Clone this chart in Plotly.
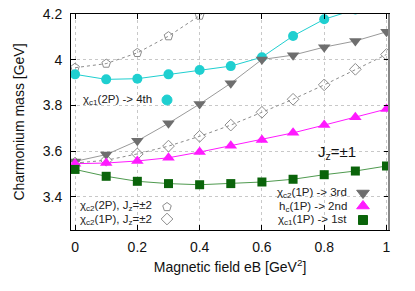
import plotly.graph_objects as go

eB = [0.0, 0.1, 0.2, 0.3, 0.4, 0.5, 0.6, 0.7, 0.8, 0.9, 1.0]
chi_c1_2P = [3.936, 3.914, 3.917, 3.936, 3.955, 3.972, 4.011, 4.104, 4.177, 4.22, 4.27]
chi_c2_1P = [3.555, 3.585, 3.645, 3.722, 3.806, 3.897, 4.001, 4.020, 4.055, 4.082, 4.122]
h_c_1P = [3.545, 3.548, 3.557, 3.571, 3.596, 3.624, 3.649, 3.680, 3.714, 3.748, 3.784]
chi_c1_1P = [3.520, 3.490, 3.468, 3.458, 3.453, 3.458, 3.465, 3.477, 3.497, 3.513, 3.535]
eB_2P_Jz2 = [0.0, 0.1, 0.2, 0.3, 0.4, 0.5]
chi_c2_2P_Jz2 = [3.965, 3.983, 4.030, 4.103, 4.193, 4.29]
chi_c2_1P_Jz2 = [3.548, 3.560, 3.588, 3.622, 3.665, 3.714, 3.770, 3.827, 3.890, 3.958, 4.023]

x_ticks = [0, 0.2, 0.4, 0.6, 0.8, 1]
x_tick_labels = ["0", "0.2", "0.4", "0.6", "0.8", "1"]
y_ticks = [3.4, 3.6, 3.8, 4.0, 4.2]
y_tick_labels = ["3.4", "3.6", "3.8", "4", "4.2"]

# page body has an 8px margin; size the figure to fit the window
OFF = 8
W, H = 415 - OFF, 291 - OFF
L, R, T, B = 71 - OFF, 26, 14 - OFF, 61
pw, ph = W - L - R, H - T - B

def px(x):
    return (x - OFF - L) / pw

def py(y):
    return 1 - (y - OFF - T) / ph

fig = go.Figure()

cyan = "#1fcfd0"
gray_fill = "#6e6e6e"
gray_line = "#9a9a9a"
open_gray = "#8c8c8c"
pink = "#ff1aff"
green = "#0a640a"
green_line = "#4f9a4f"

fig.add_trace(go.Scatter(x=eB_2P_Jz2, y=chi_c2_2P_Jz2, mode="lines+markers",
    line=dict(color=open_gray, width=1, dash="dot"),
    marker=dict(symbol="pentagon-open", size=9, color=open_gray, line=dict(width=1))))
fig.add_trace(go.Scatter(x=eB, y=chi_c2_1P_Jz2, mode="lines+markers",
    line=dict(color=open_gray, width=1, dash="dot"),
    marker=dict(symbol="diamond-open", size=9, color=open_gray, line=dict(width=1))))
fig.add_trace(go.Scatter(x=eB, y=chi_c1_2P, mode="lines+markers",
    line=dict(color=cyan, width=1),
    marker=dict(symbol="circle", size=10, color=cyan)))
fig.add_trace(go.Scatter(x=eB, y=chi_c2_1P, mode="lines+markers",
    line=dict(color=gray_line, width=1),
    marker=dict(symbol="triangle-down", size=11, color=gray_fill)))
fig.add_trace(go.Scatter(x=eB, y=h_c_1P, mode="lines+markers",
    line=dict(color=pink, width=1),
    marker=dict(symbol="triangle-up", size=11, color=pink)))
fig.add_trace(go.Scatter(x=eB, y=chi_c1_1P, mode="lines+markers",
    line=dict(color=green_line, width=1),
    marker=dict(symbol="square", size=9, color=green)))

samples = [
    (167, 100, "circle", cyan, 10),
    (167, 207, "pentagon-open", open_gray, 9),
    (167, 219, "diamond-open", open_gray, 9),
    (363, 193, "triangle-down", gray_fill, 11),
    (363, 206, "triangle-up", pink, 11),
    (363, 220, "square", green, 9),
]
for sx, sy, sym, col, sz in samples:
    fig.add_trace(go.Scatter(x=[px(sx)], y=[py(sy)], xaxis="x2", yaxis="y2",
        mode="markers", marker=dict(symbol=sym, size=sz, color=col, line=dict(width=1, color=col))))

font = "Liberation Sans, Arial, sans-serif"
anns = [
    (154, 100, "χ<sub>c1</sub>(2P) -> 4th"),
    (154, 206, "χ<sub>c2</sub>(2P), J<sub>z</sub>=±2"),
    (154, 219.5, "χ<sub>c2</sub>(1P), J<sub>z</sub>=±2"),
    (349, 193, "χ<sub>c2</sub>(1P) -> 3rd"),
    (349, 206.5, "h<sub>c</sub>(1P) -> 2nd"),
    (349, 220, "χ<sub>c1</sub>(1P) -> 1st"),
]
annotations = []
for ax_, ay_, txt in anns:
    annotations.append(dict(x=px(ax_), y=py(ay_), xref="paper", yref="paper", text=txt,
        showarrow=False, xanchor="right", yanchor="middle",
        font=dict(family=font, size=11.5, color="#222")))
annotations.append(dict(x=px(358), y=py(152), xref="paper", yref="paper",
    text="J<sub>z</sub>=±1", showarrow=False, xanchor="right", yanchor="middle",
    font=dict(family=font, size=15, color="#111")))

axis_common = dict(showgrid=True, gridcolor="#c8c8c8", griddash="dot", gridwidth=1,
    showline=True, linecolor="black", linewidth=1, mirror="ticks",
    ticks="inside", ticklen=5, tickcolor="black", zeroline=False,
    automargin=False, ticklabeloverflow="allow", tickfont=dict(size=14))

fig.update_layout(
    template="none",
    width=W, height=H, margin=dict(l=L, r=R, t=T, b=B, autoexpand=False),
    paper_bgcolor="white", plot_bgcolor="white", showlegend=False,
    font=dict(family=font, size=14, color="#111"),
    annotations=annotations,
    shapes=[dict(type="line", xref="paper", yref="paper", x0=1, x1=1, y0=0, y1=1,
                 line=dict(color="#888888", width=2))],
    xaxis=dict(range=[-0.013, 1.008], tickvals=x_ticks, ticktext=x_tick_labels,
        ticklabelstandoff=4,
        title=dict(text="Magnetic field eB [GeV<sup>2</sup>]", font=dict(size=14), standoff=8),
        **axis_common),
    yaxis=dict(range=[3.255, 4.2], tickvals=y_ticks, ticktext=y_tick_labels,
        ticklabelstandoff=5,
        title=dict(text="Charmonium mass [GeV]", font=dict(size=14), standoff=14),
        **axis_common),
    xaxis2=dict(range=[0, 1], overlaying="x", visible=False, fixedrange=True, automargin=False),
    yaxis2=dict(range=[0, 1], overlaying="y", visible=False, fixedrange=True, automargin=False),
)

fig.write_html("out.html")
